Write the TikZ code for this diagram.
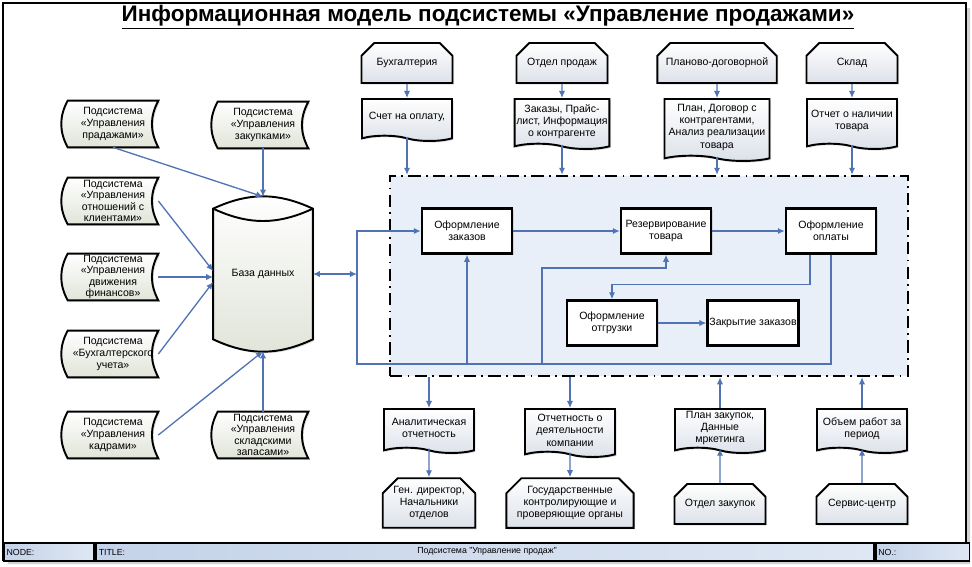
\documentclass[tikz,border=0pt]{standalone}
\usepackage{fontspec}
\setmainfont{Liberation Sans}
\usepackage{tikz}
\usetikzlibrary{arrows.meta,positioning,shadows,shapes.misc,shapes.symbols,backgrounds,calc}
\definecolor{lnk}{RGB}{79,115,179}
\definecolor{frf}{RGB}{233,239,248}
\definecolor{stf}{RGB}{224,228,216}
\definecolor{dcf}{RGB}{220,225,233}
\definecolor{ftc}{RGB}{196,211,233}
\tikzset{
  link/.style={-{Latex[length=4pt,width=3.6pt]},line width=0.75pt,draw=lnk},
  dlink/.style={{Latex[length=4pt,width=3.6pt]}-{Latex[length=4pt,width=3.6pt]},line width=0.75pt,draw=lnk},
  softshadow/.style={drop shadow={shadow xshift=0.9pt,shadow yshift=-0.9pt,opacity=0.25}},
  % stored-data boxes, outline drawn later on the background layer
  stored/.style={minimum width=1.8cm,minimum height=0.92cm,inner sep=0pt,align=center,
    font=\fontsize{6pt}{6.6pt}\selectfont},
  storedpath/.style={draw=black,line width=1.1pt,top color=white,bottom color=stf,softshadow},
  dbnode/.style={minimum width=1.98cm,minimum height=3.08cm,inner sep=0pt},
  procstep/.style={rectangle,draw=black,line width=1.4pt,fill=white,
    minimum width=1.8cm,minimum height=0.9cm,align=center,inner sep=1pt,softshadow},
  srcbox/.style={chamfered rectangle,chamfered rectangle corners={north west,north east},
    chamfered rectangle xsep=5pt,draw=black,line width=1.1pt,top color=white,bottom color=dcf,
    minimum width=1.82cm,minimum height=0.8cm,align=center,inner sep=1pt,softshadow},
  docbox/.style={tape,tape bend top=none,tape bend bottom=out and in,tape bend height=3pt,
    draw=black,line width=1.1pt,top color=white,bottom color=dcf,
    minimum width=1.8cm,align=center,inner sep=1pt,anchor=north,softshadow},
  procarea/.style={rectangle,draw=black,line width=1.4pt,fill=frf,
    dash pattern=on 7pt off 3pt on 1pt off 3pt,minimum width=10.36cm,minimum height=4cm},
  footcell/.style={rectangle,draw=black,line width=1.1pt,left color=ftc,right color=ftc!55,
    minimum height=0.36cm,anchor=north west,inner sep=1.5pt,align=left,
    font=\fontsize{5pt}{6pt}\selectfont},
}

\begin{document}
\begin{tikzpicture}[x=0.02cm,y=-0.02cm,font=\fontsize{6pt}{6.9pt}\selectfont]
\useasboundingbox (0,0) rectangle (972,566);
% page border
\fill[gray!35] (8,560) rectangle (970,564) (966,8) rectangle (970,564);
\draw[line width=1.4pt] (3,3) rectangle (966,560);
\node[font=\bfseries\fontsize{12.8pt}{14pt}\selectfont] (ttl) at (488,17)
  {\underline{Информационная модель подсистемы «Управление продажами»}};

% subsystems and database
\node[stored] (pr)  at (113,124) {Подсистема\\«Управления\\прадажами»};
\node[stored] (kl)  at (113,201) {Подсистема\\«Управления\\отношений с\\клиентами»};
\node[stored] (fin) at (113,277) {Подсистема\\«Управления\\движения\\финансов»};
\node[stored] (buh) at (113,354) {Подсистема\\«Бухгалтерского\\учета»};
\node[stored] (kad) at (113,435) {Подсистема\\«Управления\\кадрами»};
\node[stored] (zak) at (263,125) {Подсистема\\«Управления\\закупками»};
\node[stored] (skl) at (263,435) {Подсистема\\«Управления\\складскими\\запасами»};
\node[dbnode] (db) at (263,274) {База данных};

\begin{scope}[on background layer]
\foreach \n in {pr,kl,fin,buh,kad,zak,skl}
  \path[storedpath] (\n.north west) to[bend right=28] (\n.south west)
    -- (\n.south east) to[bend left=28] (\n.north east) -- cycle;
\path[storedpath] ([yshift=-0.24cm]db.north west) to[bend left=25] ([yshift=-0.24cm]db.north east)
  -- ([yshift=0.24cm]db.south east) to[bend left=25] ([yshift=0.24cm]db.south west) -- cycle;
\draw[line width=1.1pt] ([yshift=-0.24cm]db.north west) to[bend right=25] ([yshift=-0.24cm]db.north east);
\end{scope}

\draw[link] (pr.south) -- (db.north);
\draw[link] (zak) -- (db.north);
\draw[link] (kl.east) -- ([yshift=0.06cm]db.west);
\draw[link] (fin.east) -- (fin.east -| db.west);
\draw[link] (buh.east) -- ([yshift=-0.16cm]db.west);
\draw[link] (kad.east) -- (db.south);
\draw[link] (skl) -- (db.south);

% process area
\node[procarea] (frm) at (649,276) {};
\node[procstep] (zakaz) at (467,231) {Оформление\\заказов};
\node[procstep] (rez)   at (666,231) {Резервирование\\товара};
\node[procstep] (opl)   at (831,231) {Оформление\\оплаты};
\node[procstep] (otgr)  at (612,323) {Оформление\\отгрузки};
\node[procstep] (zakr)  at (753,323) {Закрытие заказов};

\coordinate (cbl) at (357,364);
\coordinate (crz) at (542,364);
\draw[dlink] (db.east) -- (db.east -| cbl);
\draw[link] (opl.south) |- (cbl) |- (zakaz.west);
\draw[link] (cbl -| zakaz.south) -- (zakaz.south);
\draw[link] (crz) -- ++(0,-96) -| (rez.south);
\draw[link] ([xshift=-0.42cm]opl.south) -- ++(0,30) -| (otgr.north);
\draw[link] (zakaz) -- (rez);
\draw[link] (rez) -- (opl);
\draw[link] (otgr) -- (zakr);

% inputs from the top
\node[srcbox] (sbuh) at (407,63) {Бухгалтерия};
\node[srcbox] (sotd) at (562,63) {Отдел продаж};
\node[srcbox,minimum width=2.1cm] (splan) at (717,63) {Планово-договорной};
\node[srcbox] (sskl) at (852,63) {Склад};
\node[docbox,minimum height=0.84cm] (dschet) at (407,98) {Счет на оплату,};
\node[docbox,minimum height=1cm] (dzak) at (562,98) {Заказы, Прайс-\\лист, Информация\\о контрагенте};
\node[docbox,minimum width=2.1cm,minimum height=1.24cm] (dplan) at (717,98) {План, Договор с\\контрагентами,\\Анализ реализации\\товара};
\node[docbox,minimum height=1cm] (dotch) at (852,98) {Отчет о наличии\\товара};
\foreach \s/\d in {sbuh/dschet,sotd/dzak,splan/dplan,sskl/dotch}{
  \draw[link] (\s) -- (\d);
  \draw[link] (\d.south) -- (\d.south |- frm.north);
}

% outputs and inputs at the bottom
\node[docbox,minimum height=0.88cm] (dan)  at (429,408) {Аналитическая\\отчетность};
\node[docbox,minimum height=0.96cm] (dotn) at (570,408) {Отчетность о\\деятельности\\компании};
\node[docbox,minimum height=0.88cm] (dpz)  at (720,408) {План закупок,\\Данные\\мркетинга};
\node[docbox,minimum height=0.88cm] (dob)  at (862,408) {Объем работ за\\период};
\node[srcbox,minimum width=1.78cm] (kgen)  at (429,503) {Ген. директор,\\Начальники\\отделов};
\node[srcbox,minimum width=2cm]    (kgos)  at (570,503) {Государственные\\контролирующие и\\проверяющие органы};
\node[srcbox] (kotz)  at (720,504) {Отдел закупок};
\node[srcbox] (kserv) at (862,504) {Сервис-центр};
\draw[link] (frm.south -| dan.north) -- (dan.north);
\draw[link] (dan.south) -- (kgen);
\draw[link] (frm.south -| dotn.north) -- (dotn.north);
\draw[link] (dotn.south) -- (kgos);
\draw[link] (kotz) -- (dpz.south);
\draw[link] (dpz.north) -- (dpz.north |- frm.south);
\draw[link] (kserv) -- (dob.south);
\draw[link] (dob.north) -- (dob.north |- frm.south);

% title block
\node[footcell,text width=1.7cm] (fnode) at (3,542) {NODE:};
\node[footcell,text width=15.45cm,right=0pt of fnode] (ftit) {TITLE:};
\node[footcell,text width=1.77cm,right=0pt of ftit] (fno) {NO.:};
\node[font=\fontsize{5pt}{6pt}\selectfont] (ftxt) at (487,551) {Подсистема "Управление продаж"};
\end{tikzpicture}
\end{document}
